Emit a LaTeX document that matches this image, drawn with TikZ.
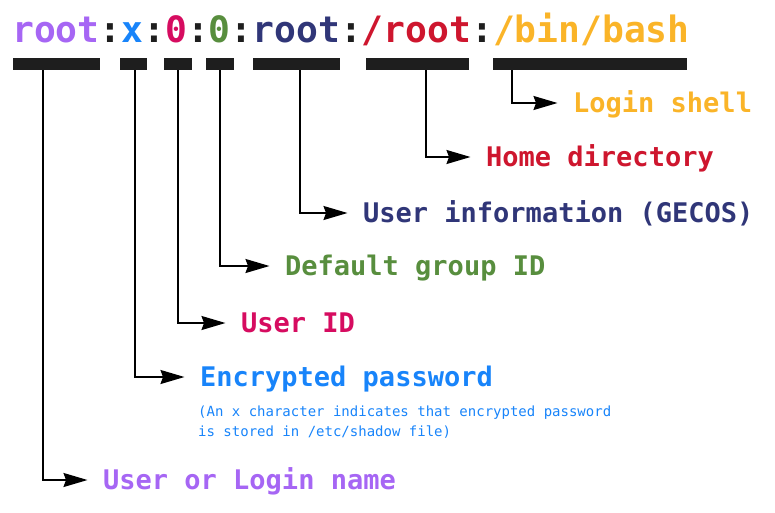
\documentclass[tikz,border=0pt]{standalone}
\usepackage{fontspec}
\setmonofont{DejaVu Sans Mono}
\usepackage{tikz}
\usetikzlibrary{arrows.meta, positioning}

\definecolor{loginc}{RGB}{166,102,244}
\definecolor{passc}{RGB}{24,132,250}
\definecolor{uidc}{RGB}{214,12,96}
\definecolor{gidc}{RGB}{88,142,62}
\definecolor{gecosc}{RGB}{48,54,120}
\definecolor{homec}{RGB}{206,22,46}
\definecolor{shellc}{RGB}{250,180,40}
\definecolor{colonc}{RGB}{30,30,30}

\tikzset{
  fieldbar/.style={fill=colonc, draw=none, inner sep=0pt, minimum height=12pt, anchor=north west},
  conn/.style={draw=black, line width=1.6pt, -{Stealth[length=24pt, width=14pt, inset=2.5pt]}, shorten >=15.5pt},
  fieldlabel/.style={inner sep=0pt, anchor=west, text height=19pt, text depth=0pt, font=\ttfamily\bfseries\fontsize{27}{30}\selectfont},
}

\begin{document}
\begin{tikzpicture}[x=1pt, y=-1pt]
\useasboundingbox (0,0) rectangle (775,512);

% the record
\node[anchor=base west, inner sep=0pt, font=\ttfamily\bfseries\fontsize{36.3}{40}\selectfont] (rec) at (12,42)
  {\textcolor{loginc}{root}\textcolor{colonc}{:}\textcolor{passc}{x}\textcolor{colonc}{:}\textcolor{uidc}{0}\textcolor{colonc}{:}\textcolor{gidc}{0}\textcolor{colonc}{:}\textcolor{gecosc}{root}\textcolor{colonc}{:}\textcolor{homec}{/root}\textcolor{colonc}{:}\textcolor{shellc}{/bin/bash}};

% bars under each field
\node[fieldbar, minimum width=87pt] (b1) at (13,58) {};
\node[fieldbar, minimum width=27pt] (b2) at (120,58) {};
\node[fieldbar, minimum width=28pt] (b3) at (164,58) {};
\node[fieldbar, minimum width=28pt] (b4) at (206,58) {};
\node[fieldbar, minimum width=87pt] (b5) at (253,58) {};
\node[fieldbar, minimum width=103pt] (b6) at (366,58) {};
\node[fieldbar, minimum width=194pt] (b7) at (493,58) {};

% labels
\node[fieldlabel, text=shellc] (shell) at (573,103) {Login shell};
\node[fieldlabel, text=homec] (home) at (486,157) {Home directory};
\node[fieldlabel, text=gecosc] (gecos) at (363,213) {User information (GECOS)};
\node[fieldlabel, text=gidc] (gid) at (285,266) {Default group ID};
\node[fieldlabel, text=uidc] (uid) at (241,323) {User ID};
\node[fieldlabel, text=passc] (pass) at (200,377) {Encrypted password};
\node[anchor=base west, inner sep=0pt, text=passc, align=left, font=\ttfamily\fontsize{14}{20}\selectfont] (note) at (198,436)
  {(An x character indicates that encrypted password\\is stored in /etc/shadow file)};
\node[fieldlabel, text=loginc] (login) at (103,480) {User or Login name};

% connectors
\draw[conn] ([xshift=19pt]b7.south west) |- (shell.west);
\draw[conn] ([xshift=60pt]b6.south west) |- (home.west);
\draw[conn] ([xshift=47pt]b5.south west) |- (gecos.west);
\draw[conn] ([xshift=14pt]b4.south west) |- (gid.west);
\draw[conn] ([xshift=14pt]b3.south west) |- (uid.west);
\draw[conn] ([xshift=15pt]b2.south west) |- (pass.west);
\draw[conn] ([xshift=30pt]b1.south west) |- (login.west);
\end{tikzpicture}
\end{document}
